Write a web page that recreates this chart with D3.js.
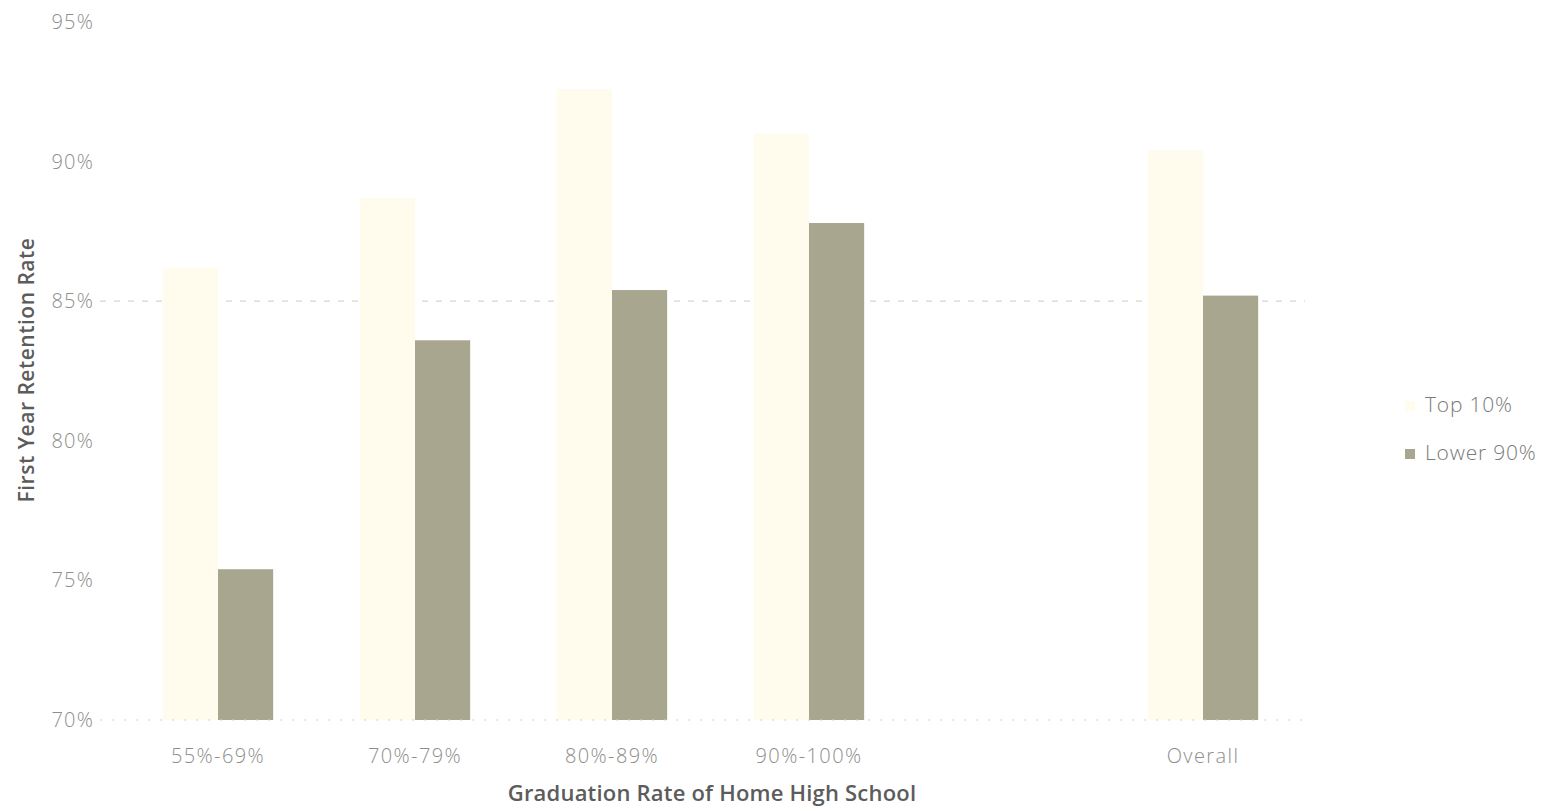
<!DOCTYPE html>
<html><head><meta charset="utf-8">
<script src="https://cdn.jsdelivr.net/npm/d3@7/dist/d3.min.js"></script>
<style>
html,body{margin:0;padding:0;background:#fff;}
svg{display:block;}
</style></head>
<body>
<svg id="chart" width="1544" height="811"></svg>
<script>
const categories = ["55%-69%", "70%-79%", "80%-89%", "90%-100%", "", "Overall"];
const top10 = [86.2, 88.7, 92.6, 91.0, null, 90.4];
const lower90 = [75.4, 83.6, 85.4, 87.8, null, 85.2];
const yTicks = [70, 75, 80, 85, 90, 95];
const seriesNames = ["Top 10%", "Lower 90%"];
const seriesColors = ["#fffcee", "#a9a690"];

const svg = d3.select("#chart");
const keys = categories.map((c, i) => "c" + i);
const x = d3.scaleBand().domain(keys).range([119.5, 1301.5]).paddingInner(0.44).paddingOuter(0.22);
const xs = d3.scaleBand().domain(seriesNames).range([0, x.bandwidth()]);
const y = d3.scaleLinear().domain([70, 95]).range([720, 22]);
const font = "'Open Sans', 'Liberation Sans', sans-serif";

// visible gridline (85%)
svg.append("g").selectAll("line").data(yTicks.filter(t => t === 85)).join("line")
  .attr("x1", 100).attr("x2", 1305)
  .attr("y1", d => y(d)).attr("y2", d => y(d))
  .attr("stroke", "#d8d8cc")
  .attr("stroke-width", 1.2)
  .attr("stroke-dasharray", "6,8");

// bars
const data = [top10, lower90];
data.forEach((vals, s) => {
  svg.append("g").selectAll("rect").data(vals.map((v, i) => ({v, k: keys[i]})).filter(d => d.v != null)).join("rect")
    .attr("x", d => x(d.k) + xs(seriesNames[s]))
    .attr("width", xs.bandwidth())
    .attr("y", d => y(d.v))
    .attr("height", d => y(70) - y(d.v))
    .attr("fill", seriesColors[s]);
});

// baseline axis (dotted)
svg.append("line").attr("x1", 100).attr("x2", 1305).attr("y1", y(70)).attr("y2", y(70))
  .attr("stroke", "#cfcfc8").attr("stroke-width", 1.2).attr("stroke-dasharray", "2,10");

// y axis
const yAxis = d3.axisLeft(y).tickValues(yTicks).tickFormat(d => d + "%").tickSize(0).tickPadding(0);
const gy = svg.append("g").attr("transform", "translate(94,0)").call(yAxis);
gy.select(".domain").remove();
gy.selectAll("text").attr("font-family", font).attr("font-size", 20).attr("letter-spacing", 1.2)
  .attr("fill", "#8e8e8a").attr("font-weight", 300);

// x axis
const xAxis = d3.axisBottom(x).tickFormat((d, i) => categories[i]).tickSize(0).tickPadding(0);
const gx = svg.append("g").attr("transform", "translate(0,749)").call(xAxis);
gx.select(".domain").remove();
gx.selectAll("text").attr("font-family", font).attr("font-size", 20).attr("letter-spacing", 1.4)
  .attr("fill", "#8e8e8a").attr("font-weight", 300);

// axis titles
svg.append("text").attr("x", 712).attr("y", 801).attr("text-anchor", "middle")
  .attr("font-family", font).attr("font-size", 22).attr("letter-spacing", 0.2).attr("font-weight", 600).attr("fill", "#5c5c5c")
  .text("Graduation Rate of Home High School");
svg.append("text").attr("transform", "translate(34,370) rotate(-90)").attr("text-anchor", "middle")
  .attr("font-family", font).attr("font-size", 21).attr("letter-spacing", 0.5).attr("font-weight", 600).attr("fill", "#5c5c5c")
  .text("First Year Retention Rate");

// legend
const lg = svg.append("g").attr("transform", "translate(1405,400)");
seriesNames.forEach((n, i) => {
  lg.append("rect").attr("x", 0).attr("y", i * 48 + 1).attr("width", 10).attr("height", 10).attr("fill", seriesColors[i]);
  lg.append("text").attr("x", 20).attr("y", i * 48 + 12).attr("font-family", font).attr("font-size", 21).attr("letter-spacing", 0.8)
    .attr("fill", "#7a7a78").attr("font-weight", 300).text(n);
});
</script>
</body></html>
